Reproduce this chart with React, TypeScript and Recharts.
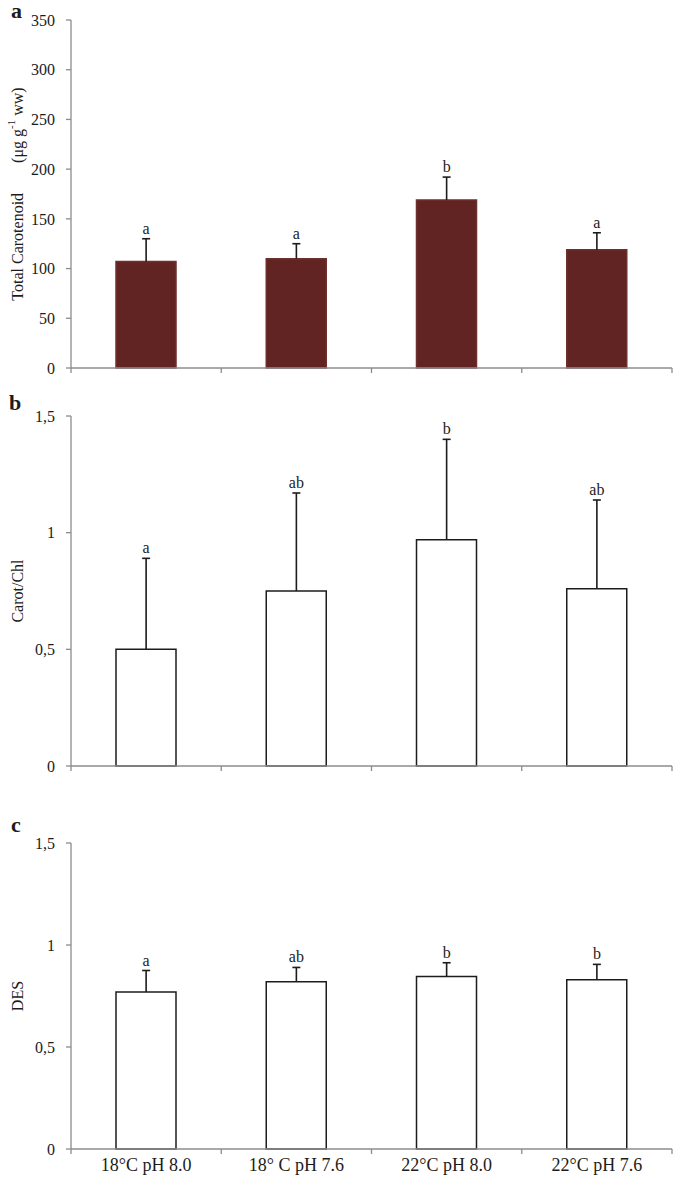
import React from 'react'
import {
  ComposedChart, Bar, Line, XAxis, YAxis, ErrorBar, LabelList,
} from 'recharts'

// ── Data ─────────────────────────────────────────────────────────
const CATEGORIES = ['18°C pH 8.0', '18° C pH 7.6', '22°C pH 8.0', '22°C pH 7.6']

const CAROT_MEAN = [107, 110, 169, 119]
const CAROT_ERR = [23, 15, 23, 17]
const CAROT_LETTERS = ['a', 'a', 'b', 'a']

const RATIO_MEAN = [0.5, 0.75, 0.97, 0.76]
const RATIO_ERR = [0.39, 0.42, 0.43, 0.38]
const RATIO_LETTERS = ['a', 'ab', 'b', 'ab']

const DES_MEAN = [0.77, 0.82, 0.845, 0.83]
const DES_ERR = [0.105, 0.07, 0.068, 0.075]
const DES_LETTERS = ['a', 'ab', 'b', 'b']

const CAROT_TICKS = [0, 50, 100, 150, 200, 250, 300, 350]
const UNIT_TICKS = [0, 0.5, 1, 1.5]

const FONT = '"Liberation Serif", "Times New Roman", serif'
const AXIS = '#8c8c8c'
const INK = '#1c1c1c'

// error is one-sided (upward only): the line sits on the whisker top,
// the ErrorBar (no caps) hangs down to the bar top, the dot is the cap
const build = (mean: number[], err: number[], letters: string[]) =>
  CATEGORIES.map((name, i) => ({
    name,
    mean: mean[i],
    top: mean[i] + err[i],
    err: [err[i], 0],
    letter: letters[i],
  }))

const commaFmt = (v: number) => String(v).replace('.', ',')

const capDot = (p: any) => (
  <line key={`cap-${p.index}`} x1={p.cx - 4} x2={p.cx + 4} y1={p.cy} y2={p.cy} stroke={INK} strokeWidth={1.6} />
)

interface PanelProps {
  top: number
  height: number
  marginTop: number
  marginBottom: number
  axisHeight: number
  showLabels: boolean
  data: ReturnType<typeof build>
  domain: [number, number]
  ticks: number[]
  fill: string
  stroke: string
  yLabel: React.ReactNode
}

function Panel({ top, height, marginTop, marginBottom, axisHeight, showLabels, data, domain, ticks, fill, stroke, yLabel }: PanelProps) {
  // category tick: label at band centre, tick marks at band edges
  const catTick = (props: any) => {
    const { x, y, payload, index } = props
    const half = payload.offset ?? 0
    const last = index === CATEGORIES.length - 1
    return (
      <g>
        <line x1={x - half} x2={x - half} y1={y} y2={y + 5} stroke={AXIS} strokeWidth={1.3} />
        {last && <line x1={x + half} x2={x + half} y1={y} y2={y + 5} stroke={AXIS} strokeWidth={1.3} />}
        {showLabels && (
          <text x={x} y={y + 22} textAnchor="middle" fontFamily={FONT} fontSize={18} fill={INK}>
            {payload.value}
          </text>
        )}
      </g>
    )
  }

  const yLabelContent = (props: any) => {
    const vb = props.viewBox
    const cx = 17
    const cy = vb.y + vb.height / 2
    return (
      <text x={cx} y={cy} transform={`rotate(-90, ${cx}, ${cy})`} textAnchor="middle"
        dominantBaseline="central" fontFamily={FONT} fontSize={16} fill={INK}>
        {yLabel}
      </text>
    )
  }

  return (
    <div style={{ position: 'absolute', left: 0, top, width: 675, height }}>
      <ComposedChart width={675} height={height} data={data}
        margin={{ top: marginTop, right: 3, bottom: marginBottom, left: 0 }}>
        <XAxis dataKey="name" interval={0} height={axisHeight}
          axisLine={{ stroke: AXIS, strokeWidth: 1.3 }} tickLine={false}
          tickSize={0} tickMargin={0} tick={catTick} />
        <YAxis width={71} domain={domain} ticks={ticks} interval={0} tickFormatter={commaFmt}
          axisLine={{ stroke: AXIS, strokeWidth: 1.3 }} tickLine={{ stroke: AXIS, strokeWidth: 1.3 }}
          tickSize={5} tickMargin={11}
          tick={{ fill: INK, fontFamily: FONT, fontSize: 16 }}
          label={{ content: yLabelContent }} />
        <Bar dataKey="mean" fill={fill} stroke={stroke} strokeWidth={1.5}
          barSize={60} isAnimationActive={false} />
        <Line dataKey="top" stroke="none" dot={capDot} activeDot={false}
          legendType="none" isAnimationActive={false}>
          <ErrorBar dataKey="err" width={0} stroke={INK} strokeWidth={1.6} direction="y" />
          <LabelList dataKey="letter" position="top" offset={5}
            style={{ fontFamily: FONT, fontSize: 16, fill: INK }} />
        </Line>
      </ComposedChart>
    </div>
  )
}

const letterStyle: React.CSSProperties = {
  position: 'absolute', fontFamily: FONT, fontWeight: 700, fontSize: 22, color: INK, lineHeight: 1,
}

export default function App() {
  return (
    <div style={{ position: 'absolute', left: 0, top: 0, width: 675, height: 1189, background: '#fff' }}>
      <Panel top={0} height={390} marginTop={20} marginBottom={12} axisHeight={10} showLabels={false}
        data={build(CAROT_MEAN, CAROT_ERR, CAROT_LETTERS)} domain={[0, 350]} ticks={CAROT_TICKS}
        fill="#622422" stroke="#6e302c"
        yLabel={<>Total Carotenoid<tspan dx={30}>(μg g</tspan><tspan dy={-6} fontSize={11}>-1</tspan><tspan dy={6}> ww)</tspan></>} />
      <Panel top={390} height={390} marginTop={26} marginBottom={4} axisHeight={10} showLabels={false}
        data={build(RATIO_MEAN, RATIO_ERR, RATIO_LETTERS)} domain={[0, 1.5]} ticks={UNIT_TICKS}
        fill="#ffffff" stroke={INK} yLabel="Carot/Chl" />
      <Panel top={780} height={409} marginTop={63} marginBottom={10} axisHeight={30} showLabels
        data={build(DES_MEAN, DES_ERR, DES_LETTERS)} domain={[0, 1.5]} ticks={UNIT_TICKS}
        fill="#ffffff" stroke={INK} yLabel="DES" />
      <div style={{ ...letterStyle, left: 11, top: 0 }}>a</div>
      <div style={{ ...letterStyle, left: 9, top: 392 }}>b</div>
      <div style={{ ...letterStyle, left: 11, top: 814 }}>c</div>
    </div>
  )
}
